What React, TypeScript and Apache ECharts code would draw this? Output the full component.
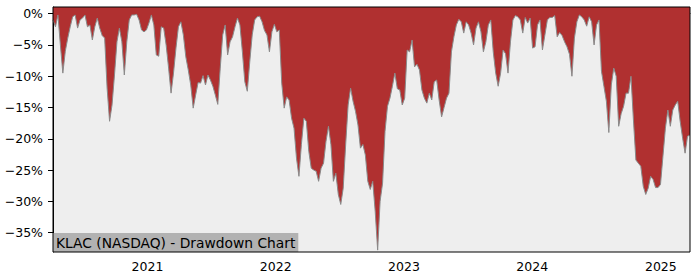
import React, { useEffect, useRef } from "react";
import * as echarts from "echarts";

// Weekly samples starting 2020-04-07
const START_DATE = "2020-04-07";
const STEP_DAYS = 7;
const drawdown: number[] = [
  -1.0, -2.1, -0.2, -5.0, -9.5, -6.0, -3.9, -2.1, -0.5, -0.2,
  -2.3, -1.0, -0.7, -0.2, -2.1, -1.8, -4.2, -2.1, -0.7, -2.3,
  -3.5, -3.9, -11.9, -17.2, -14.6, -9.8, -4.5, -2.3, -4.5, -9.8,
  -4.5, -1.0, -0.2, -0.2, -0.1, -1.0, -2.6, -2.9, -2.6, -1.5,
  -0.2, -1.8, -6.6, -6.8, -2.1, -2.3, -5.0, -8.7, -12.7, -9.5,
  -5.5, -2.1, -1.3, -3.4, -6.9, -9.0, -11.4, -15.1, -13.0, -11.0,
  -11.1, -9.9, -11.4, -9.8, -10.6, -11.6, -13.0, -14.5, -8.7, -3.4,
  -1.8, -6.6, -4.5, -3.7, -2.1, -0.7, -1.8, -6.1, -10.9, -12.4,
  -7.7, -3.4, -1.0, -0.5, -0.4, -1.3, -2.7, -3.4, -6.1, -2.9,
  -1.7, -2.9, -2.6, -11.1, -15.1, -13.3, -13.8, -16.7, -18.3, -23.1,
  -26.0, -20.9, -16.7, -17.2, -22.0, -24.7, -25.0, -25.2, -26.8, -24.7,
  -23.9, -20.4, -18.0, -20.9, -26.8, -25.5, -28.9, -30.5, -27.9, -20.9,
  -14.6, -11.9, -14.0, -15.6, -17.8, -21.5, -20.9, -22.6, -26.8, -28.1,
  -26.8, -31.6, -37.8, -30.0, -27.1, -18.8, -14.8, -13.5, -11.6, -9.5,
  -12.0, -12.2, -14.6, -13.5, -5.8, -6.1, -4.2, -8.5, -8.1, -9.0,
  -12.2, -13.5, -14.3, -12.7, -13.8, -10.9, -10.6, -13.8, -16.5, -15.0,
  -13.5, -12.7, -6.1, -3.7, -1.8, -0.9, -1.3, -3.1, -1.3, -1.8,
  -3.1, -5.0, -2.3, -1.3, -2.9, -6.1, -4.5, -1.8, -1.0, -6.1,
  -9.5, -11.6, -9.5, -5.8, -6.4, -9.5, -4.5, -1.0, -0.3, -0.5,
  -1.0, -3.1, -0.6, -1.5, -0.7, -5.5, -5.3, -1.8, -1.0, -5.8,
  -3.4, -1.0, -0.6, -0.6, -0.3, -3.7, -3.0, -3.5, -4.5, -5.3,
  -6.5, -10.0, -3.9, -1.3, -0.2, -0.5, -1.0, -2.0, -0.5, -1.3,
  -5.0, -1.8, -1.0, -9.2, -11.6, -14.0, -19.0, -11.4, -8.7, -10.0,
  -18.0, -16.0, -14.8, -12.7, -12.7, -10.0, -17.0, -23.4, -23.9, -24.4,
  -27.6, -28.9, -27.9, -26.0, -26.5, -27.8, -27.8, -27.3, -22.8, -18.3,
  -15.4, -18.0, -15.4, -14.6, -14.0, -17.2, -19.9, -22.3, -19.6, -19.4,
];
const yTicks: number[] = [0, -5, -10, -15, -20, -25, -30, -35];
const yearTicks: number[] = [2021, 2022, 2023, 2024, 2025];
const titleText = "KLAC (NASDAQ) - Drawdown Chart";
const Y_MIN = -38.1;
const Y_MAX = 1.07;

function buildSeries(): [number, number][] {
  const [y, m, d] = START_DATE.split("-").map(Number);
  return drawdown.map((v, i) => [new Date(y, m - 1, d + i * STEP_DAYS).getTime(), v]);
}

export default function App() {
  const ref = useRef<HTMLDivElement>(null);
  useEffect(() => {
    if (!ref.current) return;
    const chart = echarts.init(ref.current, undefined, { renderer: "svg" });
    const data = buildSeries();
    const font = "DejaVu Sans";
    const yearTs = yearTicks.map((yr) => new Date(yr, 0, 1).getTime());
    chart.setOption({
      animation: false,
      backgroundColor: "#ffffff",
      grid: {
        left: 53,
        right: 10,
        top: 7,
        bottom: 28,
        show: true,
        backgroundColor: "#eeeeee",
        borderWidth: 0,
      },
      title: {
        text: titleText,
        left: 53,
        top: 233,
        padding: [2, 3, 2, 3],
        backgroundColor: "#b2b2b2",
        textStyle: {
          fontFamily: font,
          fontSize: 13.8,
          fontWeight: "normal",
          color: "#000",
          lineHeight: 15,
        },
        z: 20,
      },
      xAxis: {
        type: "value",
        min: data[0][0],
        max: data[data.length - 1][0],
        axisLine: { show: true, lineStyle: { color: "#000", width: 1 } },
        axisTick: {
          show: true,
          length: 5,
          lineStyle: { color: "#000" },
          customValues: yearTs,
        },
        axisLabel: {
          fontFamily: font,
          fontSize: 12.5,
          color: "#000",
          margin: 8,
          customValues: yearTs,
          formatter: (v: number) => String(new Date(v).getFullYear()),
        },
        splitLine: { show: false },
      },
      yAxis: {
        type: "value",
        min: Y_MIN,
        max: Y_MAX,
        axisLine: { show: true, lineStyle: { color: "#000", width: 1 } },
        axisTick: {
          show: true,
          length: 5,
          lineStyle: { color: "#000" },
          customValues: yTicks,
        },
        axisLabel: {
          fontFamily: font,
          fontSize: 12.5,
          color: "#000",
          margin: 10,
          customValues: yTicks,
          formatter: (v: number) =>
            Math.abs(v) < 1e-9 ? "0%" : (v < 0 ? "\u2212" : "") + Math.abs(Math.round(v)) + "%",
        },
        splitLine: { show: false },
      },
      series: [
        {
          type: "line",
          data,
          showSymbol: false,
          symbol: "none",
          lineStyle: { color: "#8a8a8a", width: 1 },
          areaStyle: { origin: "end", color: "#b03030", opacity: 1 },
          z: 2,
        },
      ],
      graphic: [
        {
          type: "rect",
          z: 100,
          shape: { x: 53, y: 7, width: 637, height: 245 },
          style: { fill: "none", stroke: "#000", lineWidth: 1 },
          silent: true,
        },
      ],
    });
    return () => chart.dispose();
  }, []);
  return (
    <div
      ref={ref}
      style={{ position: "fixed", left: 0, top: 0, width: 700, height: 280 }}
    />
  );
}
